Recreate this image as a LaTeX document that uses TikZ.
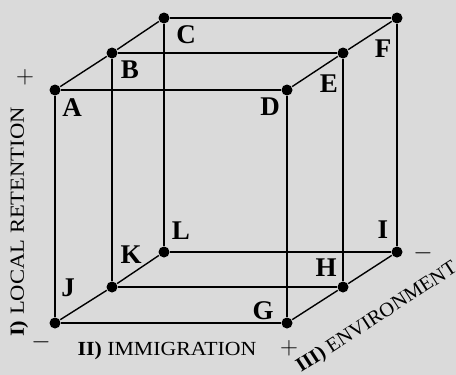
\documentclass[tikz,border=0pt]{standalone}
\usepackage{fontspec}
\setmainfont{Liberation Serif}
\usepackage{tikz}
\definecolor{bggray}{RGB}{218,218,218}

\begin{document}
\begin{tikzpicture}[x=1pt,y=-1pt,line width=1.4pt,
  corner/.style={circle,fill=black,inner sep=0pt,minimum size=11pt},
  letter/.style={font=\fontsize{27}{27}\selectfont\bfseries,inner sep=0pt},
  axis/.style={font=\fontsize{20}{20}\selectfont,inner sep=0pt},
  sign/.style={font=\fontsize{27}{27}\selectfont,inner sep=0pt}]
\fill[bggray] (0,0) rectangle (456,375);
\useasboundingbox (0,0) rectangle (456,375);
% corners of the cube
\node[corner] (A) at (55,90) {};
\node[corner] (B) at (112,53) {};
\node[corner] (C) at (164,18) {};
\node[corner] (D) at (287,90) {};
\node[corner] (E) at (343,53) {};
\node[corner] (F) at (397,18) {};
\node[corner] (J) at (55,323) {};
\node[corner] (K) at (112,287) {};
\node[corner] (L) at (164,252) {};
\node[corner] (G) at (287,323) {};
\node[corner] (H) at (343,287) {};
\node[corner] (I) at (397,252) {};
% edges
\draw (A) -- (B) -- (C);
\draw (D) -- (E) -- (F);
\draw (J) -- (K) -- (L);
\draw (G) -- (H) -- (I);
\draw (A) -- (D);
\draw (B) -- (E);
\draw (C) -- (F);
\draw (J) -- (G);
\draw (K) -- (H);
\draw (L) -- (I);
\draw (A) -- (J);
\draw (B) -- (K);
\draw (C) -- (L);
\draw (D) -- (G);
\draw (E) -- (H);
\draw (F) -- (I);
% letters
\node[letter] (lA) at (72,108) {A};
\node[letter] (lB) at (130,70) {B};
\node[letter] (lC) at (186,35) {C};
\node[letter] (lD) at (270,107) {D};
\node[letter] (lE) at (329,84) {E};
\node[letter] (lF) at (383,49) {F};
\node[letter] (lJ) at (68,288) {J};
\node[letter] (lK) at (131,255) {K};
\node[letter] (lL) at (181,231) {L};
\node[letter] (lG) at (263,311) {G};
\node[letter] (lH) at (326,268) {H};
\node[letter] (lI) at (383,230) {I};
% axes
\node[axis,rotate=90] (retention) at (19,222) {\scalebox{1.13}[1]{\textbf{I)} LOCAL RETENTION}};
\node[axis] (immigration) at (167,351) {\scalebox{1.09}[1]{\textbf{II)} IMMIGRATION}};
\node[axis,rotate=33] (environment) at (377,318) {\scalebox{1.03}[1]{\textbf{III)} ENVIRONMENT}};
\node[sign] (retplus) at (25,77) {$+$};
\node[sign] (retminus) at (41,342) {$-$};
\node[sign] (immplus) at (289,348) {$+$};
\node[sign] (envminus) at (423,253) {$-$};
\end{tikzpicture}
\end{document}
